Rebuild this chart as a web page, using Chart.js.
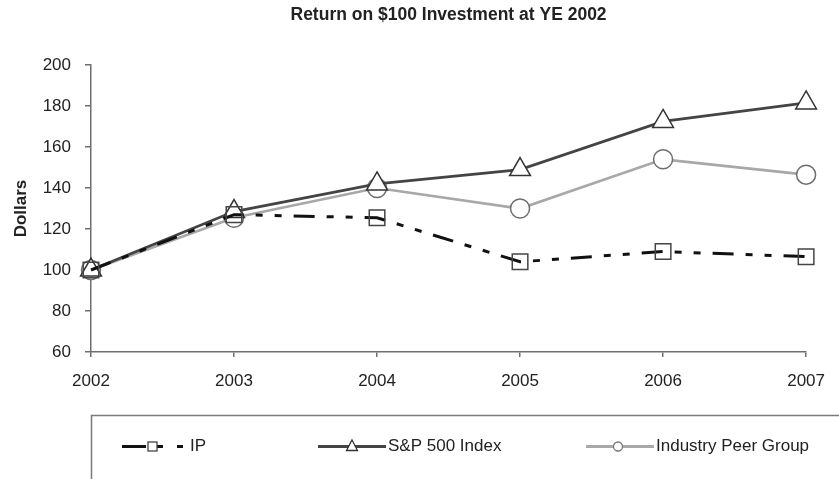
<!DOCTYPE html>
<html>
<head>
<meta charset="utf-8">
<script src="https://cdn.jsdelivr.net/npm/chart.js@4/dist/chart.umd.min.js"></script>
<style>
  html, body { margin: 0; padding: 0; background: #fff; }
  #wrap { width: 839px; height: 479px; }
</style>
</head>
<body>
<div id="wrap"><canvas id="returnChart" width="839" height="479"></canvas></div>
<script>
// 데이터
var years      = ['2002', '2003', '2004', '2005', '2006', '2007'];
var ipValues   = [100, 127, 125.5, 104, 109, 106.5];
var spValues   = [100, 128.5, 142, 149, 172.5, 181.5];
var peerValues = [100, 125.5, 140, 130, 154, 146.5];
var seriesNames = ['IP', 'S&P 500 Index', 'Industry Peer Group'];
var chartTitle = 'Return on $100 Investment at YE 2002';
var yAxisTitle = 'Dollars';

var FONT = "'Liberation Sans', Arial, Helvetica, sans-serif";

/**
 * 제목 + 범례 박스 직접 그리기
 */
var titleLegendPlugin = {
    id: 'titleLegend',
    afterDraw: function(chart) {
        var ctx = chart.ctx;
        var area = chart.chartArea;
        ctx.save();

        // 제목
        ctx.fillStyle = '#222';
        ctx.font = 'bold 17.5px ' + FONT;
        ctx.textAlign = 'center';
        ctx.textBaseline = 'middle';
        ctx.fillText(chartTitle, (area.left + area.right) / 2, 15);

        // 범례 박스
        ctx.strokeStyle = '#7a7a7a';
        ctx.lineWidth = 1.5;
        ctx.strokeRect(91.5, 415.5, 900, 200);

        var ly = 446.5;
        ctx.lineCap = 'butt';

        // IP
        ctx.strokeStyle = '#111';
        ctx.lineWidth = 3;
        ctx.beginPath();
        ctx.moveTo(122, ly); ctx.lineTo(146, ly);
        ctx.moveTo(157, ly); ctx.lineTo(163, ly);
        ctx.moveTo(177, ly); ctx.lineTo(183, ly);
        ctx.stroke();
        ctx.strokeStyle = '#444';
        ctx.lineWidth = 1.3;
        ctx.fillStyle = '#fff';
        ctx.fillRect(148, ly - 4.5, 9, 9);
        ctx.strokeRect(148, ly - 4.5, 9, 9);

        // S&P
        ctx.strokeStyle = '#444';
        ctx.lineWidth = 3;
        ctx.beginPath();
        ctx.moveTo(318, ly); ctx.lineTo(386, ly);
        ctx.stroke();
        ctx.lineWidth = 1.3;
        ctx.strokeStyle = '#333';
        ctx.beginPath();
        ctx.moveTo(352, ly - 6.5);
        ctx.lineTo(357.5, ly + 4);
        ctx.lineTo(346.5, ly + 4);
        ctx.closePath();
        ctx.fill();
        ctx.stroke();

        // Peer
        ctx.strokeStyle = '#a8a8a8';
        ctx.lineWidth = 3;
        ctx.beginPath();
        ctx.moveTo(586, ly); ctx.lineTo(654, ly);
        ctx.stroke();
        ctx.strokeStyle = '#777';
        ctx.lineWidth = 1.3;
        ctx.beginPath();
        ctx.arc(618, ly, 4.5, 0, Math.PI * 2);
        ctx.fill();
        ctx.stroke();

        // 범례 텍스트
        ctx.fillStyle = '#222';
        ctx.font = '17px ' + FONT;
        ctx.textAlign = 'left';
        ctx.textBaseline = 'middle';
        ctx.fillText(seriesNames[0], 190, ly);
        ctx.fillText(seriesNames[1], 388, ly);
        ctx.fillText(seriesNames[2], 656, ly);

        ctx.restore();
    }
};

var ctx = document.getElementById('returnChart').getContext('2d');
new Chart(ctx, {
    type: 'line',
    data: {
        labels: years,
        datasets: [
            {
                label: seriesNames[0],
                data: ipValues,
                borderColor: '#111',
                borderWidth: 3,
                borderDash: [21, 12, 7, 12, 7, 12],
                pointStyle: 'rect',
                pointRadius: 11,
                pointBorderColor: '#444',
                pointBorderWidth: 1.5,
                pointBackgroundColor: 'rgba(255,255,255,0)',
                tension: 0,
                fill: false
            },
            {
                label: seriesNames[1],
                data: spValues,
                borderColor: '#444',
                borderWidth: 2.7,
                pointStyle: 'triangle',
                pointRadius: 12,
                pointBorderColor: '#333',
                pointBorderWidth: 1.5,
                pointBackgroundColor: '#fff',
                tension: 0,
                fill: false
            },
            {
                label: seriesNames[2],
                data: peerValues,
                borderColor: '#a8a8a8',
                borderWidth: 2.7,
                pointStyle: 'circle',
                pointRadius: 9.5,
                pointBorderColor: '#6e6e6e',
                pointBorderWidth: 1.5,
                pointBackgroundColor: '#fff',
                tension: 0,
                fill: false
            }
        ]
    },
    options: {
        responsive: false,
        animation: false,
        events: [],
        layout: { padding: { left: 0, right: 22, top: 65, bottom: 0 } },
        plugins: {
            legend: { display: false },
            title: { display: false },
            tooltip: { enabled: false }
        },
        scales: {
            x: {
                type: 'category',
                offset: false,
                afterFit: function(scale) { scale.height = 127; },
                grid: { drawOnChartArea: false, drawTicks: true, tickLength: 5, color: '#6e6e6e', lineWidth: 1.5 },
                border: { display: true, color: '#6e6e6e', width: 1.5 },
                ticks: { color: '#222', font: { family: FONT, size: 17 }, padding: 14, maxRotation: 0, autoSkip: false }
            },
            y: {
                min: 60,
                max: 200,
                afterFit: function(scale) { scale.width = 91; },
                grid: { drawOnChartArea: false, drawTicks: true, tickLength: 6, color: '#6e6e6e', lineWidth: 1.5 },
                border: { display: true, color: '#6e6e6e', width: 1.5 },
                ticks: { stepSize: 20, color: '#222', font: { family: FONT, size: 17 }, padding: 14 },
                title: {
                    display: true,
                    text: yAxisTitle,
                    color: '#222',
                    font: { family: FONT, size: 17, weight: 'bold' },
                    padding: { top: 11, bottom: 0 }
                }
            }
        }
    },
    plugins: [titleLegendPlugin]
});
</script>
</body>
</html>
